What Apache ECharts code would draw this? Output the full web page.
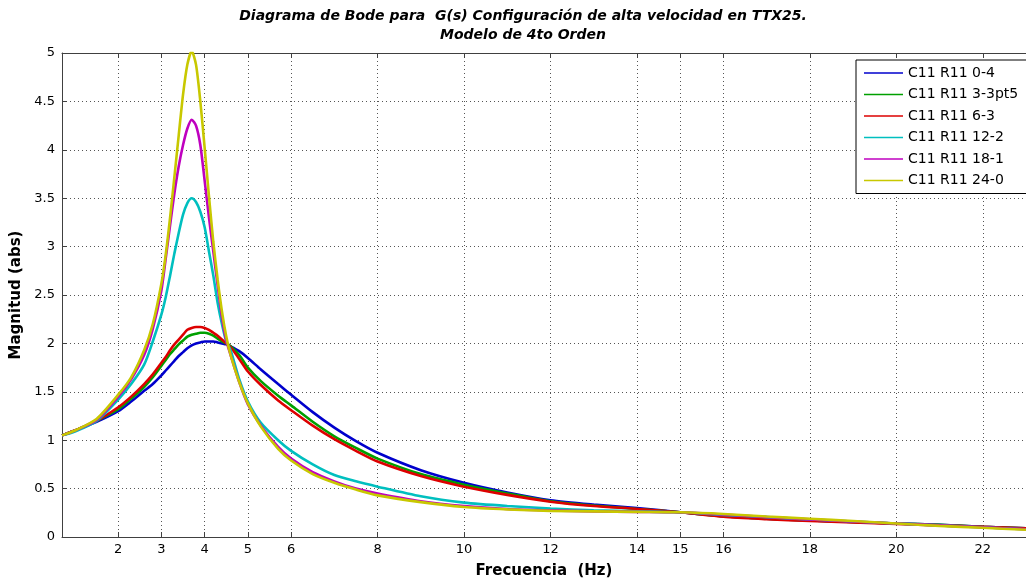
<!DOCTYPE html>
<html>
<head>
<meta charset="utf-8">
<script src="https://cdn.jsdelivr.net/npm/echarts@6/dist/echarts.min.js"></script>
<style>html,body{margin:0;padding:0;background:#fff;}#c{width:1026px;height:584px;}</style>
</head>
<body>
<div id="c"></div>
<script>
const freq = [0.7, 1.0, 1.5, 2.0, 2.3, 2.6, 2.8, 3.0, 3.1, 3.2, 3.3, 3.4, 3.5, 3.6, 3.7, 3.8, 3.9, 4.0, 4.1, 4.2, 4.3, 4.4, 4.5, 4.6, 4.8, 5.0, 5.3, 5.7, 6.0, 6.5, 7.0, 7.5, 8.0, 9.0, 10, 11, 12, 13, 14, 15, 16, 17, 18, 19, 20, 21, 22, 23];
const xTicks = [2, 3, 4, 5, 6, 8, 10, 12, 14, 15, 16, 18, 20, 22];
const seriesNames = ['C11 R11 0-4', 'C11 R11 3-3pt5', 'C11 R11 6-3', 'C11 R11 12-2', 'C11 R11 18-1', 'C11 R11 24-0'];
const mag_0_4 = [1.05, 1.10, 1.19, 1.30, 1.40, 1.51, 1.58, 1.67, 1.72, 1.77, 1.82, 1.87, 1.91, 1.95, 1.98, 2.00, 2.01, 2.02, 2.02, 2.02, 2.01, 2.00, 1.99, 1.97, 1.92, 1.85, 1.73, 1.58, 1.47, 1.29, 1.13, 0.99, 0.87, 0.69, 0.56, 0.46, 0.38, 0.335, 0.30, 0.255, 0.215, 0.19, 0.17, 0.155, 0.14, 0.125, 0.105, 0.09];
const mag_3_3pt5 = [1.05, 1.10, 1.20, 1.32, 1.43, 1.55, 1.65, 1.77, 1.83, 1.89, 1.94, 1.99, 2.03, 2.07, 2.09, 2.10, 2.11, 2.11, 2.10, 2.08, 2.05, 2.02, 2.00, 1.97, 1.88, 1.75, 1.61, 1.46, 1.36, 1.19, 1.04, 0.92, 0.81, 0.65, 0.54, 0.45, 0.37, 0.325, 0.29, 0.255, 0.215, 0.19, 0.17, 0.155, 0.14, 0.125, 0.105, 0.09];
const mag_6_3 = [1.05, 1.10, 1.20, 1.34, 1.45, 1.58, 1.68, 1.80, 1.86, 1.93, 1.99, 2.04, 2.09, 2.14, 2.16, 2.17, 2.17, 2.16, 2.14, 2.11, 2.08, 2.04, 2.00, 1.96, 1.84, 1.71, 1.57, 1.41, 1.31, 1.15, 1.01, 0.89, 0.78, 0.63, 0.52, 0.435, 0.365, 0.32, 0.29, 0.255, 0.21, 0.185, 0.165, 0.15, 0.135, 0.12, 0.105, 0.09];
const mag_12_2 = [1.05, 1.09, 1.20, 1.42, 1.58, 1.78, 2.02, 2.30, 2.48, 2.70, 2.93, 3.14, 3.33, 3.45, 3.50, 3.46, 3.36, 3.20, 2.95, 2.70, 2.42, 2.20, 2.02, 1.93, 1.63, 1.40, 1.18, 1.00, 0.89, 0.75, 0.64, 0.575, 0.52, 0.42, 0.355, 0.32, 0.295, 0.275, 0.265, 0.255, 0.228, 0.205, 0.18, 0.16, 0.14, 0.12, 0.10, 0.08];
const mag_18_1 = [1.05, 1.10, 1.21, 1.45, 1.63, 1.88, 2.15, 2.55, 2.88, 3.22, 3.55, 3.83, 4.05, 4.22, 4.31, 4.25, 4.05, 3.68, 3.30, 2.95, 2.60, 2.27, 2.03, 1.88, 1.60, 1.37, 1.15, 0.93, 0.81, 0.67, 0.575, 0.50, 0.45, 0.37, 0.32, 0.29, 0.275, 0.265, 0.26, 0.255, 0.232, 0.207, 0.182, 0.16, 0.14, 0.12, 0.10, 0.08];
const mag_24_0 = [1.05, 1.10, 1.22, 1.47, 1.65, 1.93, 2.20, 2.62, 2.92, 3.30, 3.72, 4.15, 4.57, 4.88, 5.02, 4.88, 4.50, 4.02, 3.52, 3.05, 2.66, 2.33, 2.07, 1.88, 1.60, 1.38, 1.14, 0.91, 0.79, 0.65, 0.56, 0.49, 0.43, 0.36, 0.31, 0.285, 0.27, 0.265, 0.26, 0.255, 0.238, 0.212, 0.188, 0.165, 0.14, 0.115, 0.095, 0.075];
const seriesValues = [mag_0_4, mag_3_3pt5, mag_6_3, mag_12_2, mag_18_1, mag_24_0];
const colors = ['#0000CC', '#00A000', '#DD0000', '#00BFBF', '#BF00BF', '#C8C800'];

const FONT = '"DejaVu Sans", "Liberation Sans", Arial, sans-serif';
const chart = echarts.init(document.getElementById('c'), null, {renderer: 'canvas'});
const series = seriesNames.map((name, i) => ({
  name: name,
  type: 'line',
  data: freq.map((f, j) => [f, seriesValues[i][j]]),
  showSymbol: false,
  smooth: 0.25,
  lineStyle: {width: 2.6, color: colors[i]},
  itemStyle: {color: colors[i]},
  clip: true,
  animation: false,
  z: 2 + i
}));
chart.setOption({
  animation: false,
  backgroundColor: '#ffffff',
  grid: {left: 62, right: -8, top: 53, bottom: 47, containLabel: false},
  graphic: [
    {type: 'text', style: {text: 'Diagrama de Bode para  G(s) Configuración de alta velocidad en TTX25.', x: 523, y: 16.5, textAlign: 'center', textVerticalAlign: 'middle', verticalAlign: 'middle', font: 'italic bold 14px ' + FONT, fill: '#000'}},
    {type: 'text', style: {text: 'Modelo de 4to Orden', x: 523, y: 35.5, textAlign: 'center', textVerticalAlign: 'middle', verticalAlign: 'middle', font: 'italic bold 14px ' + FONT, fill: '#000'}}
  ],
  legend: {
    orient: 'vertical',
    left: 856,
    top: 60,
    padding: [5, 30, 5, 8],
    itemGap: 5.5,
    itemWidth: 39,
    itemHeight: 1.5,
    icon: 'rect',
    backgroundColor: '#fff',
    borderColor: '#000',
    borderWidth: 1,
    borderRadius: 0,
    textStyle: {fontFamily: FONT, fontSize: 14, lineHeight: 16, color: '#000', padding: [0, 0, 0, 0]},
    data: seriesNames
  },
  xAxis: [{
    type: 'value',
    min: 0.7,
    max: 23,
    name: 'Frecuencia  (Hz)',
    nameLocation: 'middle',
    nameGap: 27,
    nameTextStyle: {fontFamily: FONT, fontSize: 15, fontWeight: 'bold', color: '#000'},
    axisLine: {show: true, onZero: false, lineStyle: {color: '#404040', width: 1}},
    axisTick: {show: true, inside: true, length: 5, customValues: xTicks, lineStyle: {color: '#404040'}},
    axisLabel: {show: true, customValues: xTicks, margin: 6, fontFamily: FONT, fontSize: 13, color: '#000'},
    splitLine: {show: true, lineStyle: {type: [1, 3], color: '#555', width: 1}}
  }, {
    type: 'value',
    position: 'top',
    min: 0.7,
    max: 23,
    axisLine: {show: true, onZero: false, lineStyle: {color: '#404040', width: 1}},
    axisTick: {show: true, inside: true, length: 5, customValues: xTicks, lineStyle: {color: '#404040'}},
    axisLabel: {show: false},
    splitLine: {show: false}
  }],
  yAxis: {
    type: 'value',
    min: 0,
    max: 5,
    interval: 0.5,
    name: 'Magnitud (abs)',
    nameLocation: 'middle',
    nameGap: 29,
    nameTextStyle: {fontFamily: FONT, fontSize: 15, fontWeight: 'bold', color: '#000'},
    axisLine: {show: true, lineStyle: {color: '#404040', width: 1}},
    axisTick: {show: true, inside: true, length: 5, lineStyle: {color: '#404040'}},
    axisLabel: {margin: 7, fontFamily: FONT, fontSize: 13, color: '#000'},
    splitLine: {show: true, lineStyle: {type: [1, 3], color: '#555', width: 1}}
  },
  series: series
});
</script>
</body>
</html>
